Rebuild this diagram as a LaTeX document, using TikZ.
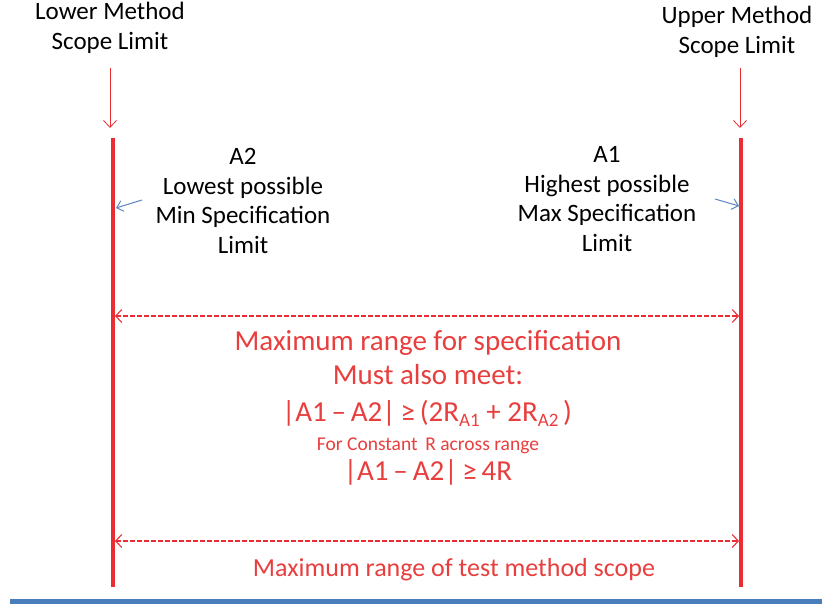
\documentclass[tikz,border=0pt]{standalone}
\usepackage{fontspec}
\setmainfont{Carlito}
\usetikzlibrary{arrows.meta}
\definecolor{limred}{RGB}{233,45,50}
\definecolor{txtred}{RGB}{232,62,62}
\definecolor{ptrblue}{RGB}{92,134,196}
\definecolor{barblue}{RGB}{74,126,187}
\newcommand{\subA}[1]{\raisebox{-0.35ex}{\fontsize{19}{19}\selectfont #1}}
\begin{document}
\begin{tikzpicture}[x=1pt,y=-1pt,
    lbl/.style={align=center,text=black,font=\fontsize{25}{29.5}\selectfont},
    redlbl/.style={align=center,text=txtred,font=\fontsize{29}{32}\selectfont},
    limit/.style={limred,line width=4pt},
    pointer/.style={limred,line width=0.8pt,-{Straight Barb[length=7pt,width=13pt]}},
    bluetip/.style={ptrblue,line width=1pt,-{Straight Barb[length=6pt,width=11pt]}},
    span/.style={limred,line width=1.1pt,dash pattern=on 4.5pt off 2.5pt,
        {Straight Barb[length=6pt,width=13pt]}-{Straight Barb[length=6pt,width=13pt]}}]
    \useasboundingbox (0,0) rectangle (822,604);
    % limit labels
    \node[lbl] (lower) at (110,28) {Lower Method\\Scope Limit};
    \node[lbl] (upper) at (737,32) {Upper Method\\Scope Limit};
    \node[lbl] (atwo) at (243,201) {A2\\Lowest possible\\Min Specification\\Limit};
    \node[lbl] (aone) at (607,199) {A1\\Highest possible\\Max Specification\\Limit};
    % limit lines
    \coordinate (lotop) at (113,138);
    \coordinate (lobot) at (113,587);
    \coordinate (uptop) at (741,138);
    \coordinate (upbot) at (741,587);
    \draw[limit] (lotop) -- (lobot);
    \draw[limit] (uptop) -- (upbot);
    \coordinate (loarr) at (110,68);
    \coordinate (lotip) at (110,128);
    \coordinate (uparr) at (740,68);
    \coordinate (uptip) at (740,128);
    \draw[pointer] (loarr) -- (lotip);
    \draw[pointer] (uparr) -- (uptip);
    % spec pointers
    \coordinate (atwotail) at (142,200);
    \coordinate (atwotip) at (116,208);
    \coordinate (aonetail) at (715,199);
    \coordinate (aonetip) at (739,206);
    \draw[bluetip] (atwotail) -- (atwotip);
    \draw[bluetip] (aonetail) -- (aonetip);
    % ranges
    \coordinate (specl) at (115,316);
    \coordinate (specr) at (739,316);
    \coordinate (scopel) at (115,541);
    \coordinate (scoper) at (739,541);
    \draw[span] (specl) -- (specr);
    \draw[span] (scopel) -- (scoper);
    \node[redlbl] (specrng) at (428,343) {Maximum range for specification};
    \node[redlbl] (meet) at (428,375) {Must also meet:};
    \node[redlbl] (cond) at (427,413)
        {|A1\,–\,A2|\,≥\,(2R\subA{A1} + 2R\subA{A2}\,)};
    \node[redlbl,font=\fontsize{19.5}{22}\selectfont] (const) at (428,446) {For Constant\, R across range};
    \node[redlbl] (condr) at (428,472) {|A1\,–\,A2|\,≥\,4R};
    \node[redlbl,font=\fontsize{26}{30}\selectfont] (scoperng) at (454,570) {Maximum range of test method scope};
    % bottom bar
    \fill[barblue] (10,599) rectangle (822,604);
\end{tikzpicture}
\end{document}
